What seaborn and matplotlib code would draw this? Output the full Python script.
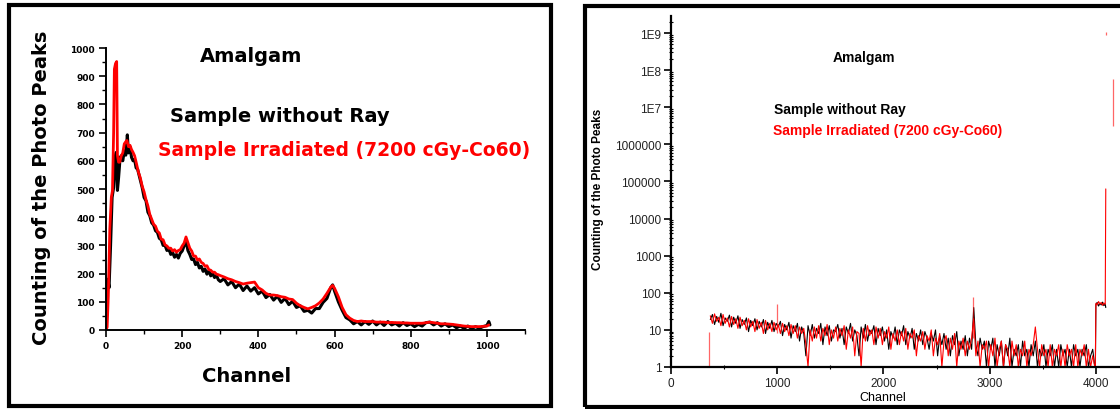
import numpy as np
import pandas as pd
import seaborn as sns
import matplotlib.pyplot as plt
from matplotlib.patches import Rectangle
from matplotlib.ticker import MultipleLocator, FixedLocator, LogLocator, NullFormatter

#### data

# left panel, linear counts
left_black_channel = [0, 3, 5, 8, 12, 16, 20, 24, 27, 30, 33, 37, 40, 44, 48, 52, 56, 59, 63, 67,
                      71, 75, 79, 83, 87, 91, 95, 100, 105, 110, 115, 120, 125, 130, 135, 140, 145,
                      150, 155, 160, 165, 170, 175, 180, 185, 190, 195, 200, 205, 210, 215, 220, 225,
                      230, 235, 240, 245, 250, 255, 260, 265, 270, 275, 280, 285, 290, 295, 300, 310,
                      320, 330, 340, 350, 360, 370, 380, 390, 400, 410, 420, 430, 440, 450, 460, 470,
                      480, 490, 500, 510, 520, 530, 540, 550, 560, 570, 580, 590, 595, 600, 610, 620,
                      630, 640, 650, 660, 670, 680, 690, 700, 710, 720, 730, 740, 750, 760, 770, 780,
                      790, 800, 810, 820, 830, 840, 850, 860, 870, 880, 890, 900, 910, 920, 930, 940,
                      950, 960, 970, 980, 990, 1000, 1005, 1008]
left_black_count = [0, 95, 180, 150, 300, 470, 505, 610, 630, 495, 540, 610, 618, 600, 635, 620, 692, 628, 650, 612,
                    600, 605, 575, 570, 548, 525, 505, 470, 458, 418, 405, 380, 372, 352, 346, 325, 320,
                    300, 300, 282, 288, 268, 275, 258, 268, 255, 272, 280, 298, 318, 282, 268, 250,
                    252, 232, 240, 220, 226, 208, 216, 198, 210, 192, 200, 186, 194, 178, 172, 182,
                    160, 172, 150, 163, 140, 156, 138, 150, 128, 138, 115, 126, 106, 120, 98, 112,
                    90, 102, 80, 86, 66, 70, 60, 76, 76, 98, 112, 150, 160, 138, 100, 70,
                    44, 36, 22, 30, 18, 30, 20, 32, 18, 28, 16, 30, 18, 24, 14, 26,
                    16, 22, 12, 20, 14, 26, 28, 18, 26, 14, 22, 12, 18, 8, 14, 6,
                    14, 5, 12, 6, 12, 16, 30, 18]

left_red_channel = [0, 3, 6, 10, 14, 17, 20, 22, 25, 28, 30, 33, 36, 40, 44, 48, 52, 55, 59, 63,
                    67, 71, 75, 80, 85, 90, 95, 100, 105, 110, 115, 120, 125, 130, 135, 140, 145,
                    150, 155, 160, 165, 170, 175, 180, 185, 190, 195, 200, 205, 210, 215, 220, 225,
                    230, 235, 240, 245, 250, 255, 260, 265, 270, 275, 280, 285, 290, 295, 300, 310,
                    320, 330, 340, 350, 360, 370, 380, 390, 400, 410, 420, 430, 440, 450, 460, 470,
                    480, 490, 500, 510, 520, 530, 540, 550, 560, 570, 580, 590, 595, 600, 610, 620,
                    630, 640, 650, 660, 670, 680, 690, 700, 710, 720, 730, 740, 750, 760, 770, 780,
                    790, 800, 810, 820, 830, 840, 850, 860, 870, 880, 890, 900, 910, 920, 930, 940,
                    950, 960, 970, 980, 990, 1000, 1005]
left_red_count = [0, 10, 120, 358, 470, 495, 700, 925, 945, 952, 620, 595, 595, 617, 628, 660, 668, 672, 650, 655,
                  640, 630, 618, 590, 560, 540, 510, 490, 462, 440, 410, 392, 375, 368, 350, 344, 322,
                  320, 302, 298, 290, 290, 280, 285, 276, 282, 285, 298, 308, 330, 310, 290, 280,
                  262, 262, 248, 252, 240, 236, 226, 228, 214, 212, 205, 205, 198, 196, 193, 188,
                  182, 178, 172, 168, 163, 166, 168, 170, 150, 142, 130, 124, 124, 122, 118, 116,
                  110, 108, 95, 86, 80, 75, 80, 86, 96, 110, 130, 152, 158, 148, 118, 80,
                  54, 42, 34, 30, 32, 30, 30, 30, 28, 28, 28, 26, 27, 26, 26, 25,
                  25, 24, 24, 24, 24, 26, 28, 26, 24, 22, 22, 21, 20, 18, 16, 14,
                  13, 12, 12, 12, 13, 14, 18]

# right panel, log counts
right_channel = [370, 390, 410, 430, 450, 470, 490, 510, 530, 550,
                 570, 590, 610, 630, 650, 670, 690, 710, 730, 750,
                 770, 790, 810, 830, 850, 870, 890, 910, 930, 950,
                 970, 990, 1010, 1030, 1050, 1070, 1090, 1110, 1130, 1150,
                 1170, 1190, 1210, 1230, 1250, 1270, 1290, 1310, 1330, 1350,
                 1370, 1390, 1410, 1430, 1450, 1470, 1490, 1510, 1530, 1550,
                 1570, 1590, 1610, 1630, 1650, 1670, 1690, 1710, 1730, 1750,
                 1770, 1790, 1810, 1830, 1850, 1870, 1890, 1910, 1930, 1950,
                 1970, 1990, 2010, 2030, 2050, 2070, 2090, 2110, 2130, 2150,
                 2170, 2190, 2210, 2230, 2250, 2270, 2290, 2310, 2330, 2350,
                 2370, 2390, 2410, 2430, 2450, 2470, 2490, 2510, 2530, 2550,
                 2570, 2590, 2610, 2630, 2650, 2670, 2690, 2710, 2730, 2750,
                 2770, 2790, 2810, 2830, 2850, 2870, 2890, 2910, 2930, 2950,
                 2970, 2990, 3010, 3030, 3050, 3070, 3090, 3110, 3130, 3150,
                 3170, 3190, 3210, 3230, 3250, 3270, 3290, 3310, 3330, 3350,
                 3370, 3390, 3410, 3430, 3450, 3470, 3490, 3510, 3530, 3550,
                 3570, 3590, 3610, 3630, 3650, 3670, 3690, 3710, 3730, 3750,
                 3770, 3790, 3810, 3830, 3850, 3870, 3890, 3910, 3930, 3950,
                 3970, 3990]
right_black_count = [19, 26, 14, 23, 16, 28, 13, 21, 17, 25,
                     12, 22, 15, 24, 11, 19, 14, 21, 9, 18,
                     13, 20, 10, 17, 12, 19, 8, 16, 11, 18,
                     9, 15, 12, 17, 7, 14, 10, 16, 6, 13,
                     9, 15, 5, 12, 8, 2, 13, 7, 14, 6,
                     11, 8, 15, 4, 12, 7, 13, 5, 10, 9,
                     14, 6, 11, 4, 12, 8, 15, 5, 10, 7,
                     2, 12, 6, 14, 5, 10, 8, 13, 4, 11,
                     7, 12, 5, 10, 3, 9, 6, 12, 4, 10,
                     7, 13, 4, 9, 6, 11, 3, 8, 5, 10,
                     4, 9, 6, 3, 8, 5, 10, 2, 7, 4,
                     8, 3, 6, 2, 7, 4, 9, 2, 5, 3,
                     7, 2, 6, 3, 40, 4, 2, 6, 3, 5,
                     1, 5, 3, 6, 1, 4, 2, 5, 1, 4,
                     2, 6, 1, 3, 2, 4, 1, 5, 2, 3,
                     1, 4, 2, 5, 1, 3, 2, 4, 1, 3,
                     2, 4, 1, 3, 1, 4, 2, 3, 1, 3,
                     1, 4, 2, 3, 1, 3, 2, 4, 1, 2,
                     3, 1]
right_red_count = [24, 15, 27, 17, 22, 13, 26, 15, 21, 12,
                   23, 14, 20, 11, 22, 13, 18, 10, 20, 12,
                   17, 9, 19, 11, 16, 8, 18, 10, 15, 9,
                   16, 10, 14, 8, 15, 9, 13, 7, 14, 8,
                   13, 6, 12, 8, 11, 4, 1, 10, 5, 12,
                   6, 13, 5, 11, 7, 14, 4, 10, 6, 12,
                   5, 11, 7, 13, 3, 10, 6, 12, 2, 9,
                   8, 1, 11, 5, 13, 7, 10, 4, 12, 6,
                   11, 4, 9, 6, 12, 3, 8, 5, 10, 4,
                   9, 5, 11, 3, 8, 6, 10, 2, 7, 5,
                   9, 3, 7, 5, 10, 2, 6, 4, 8, 1,
                   5, 7, 2, 6, 3, 8, 1, 5, 3, 6,
                   2, 5, 3, 6, 20, 2, 5, 1, 4, 3,
                   5, 1, 4, 2, 6, 1, 3, 5, 1, 4,
                   3, 1, 5, 2, 4, 1, 3, 2, 5, 1,
                   3, 2, 4, 12, 3, 1, 4, 2, 3, 1,
                   4, 1, 3, 2, 4, 1, 3, 1, 4, 2,
                   3, 1, 4, 1, 3, 2, 4, 1, 3, 1,
                   2, 1]
tail_channel = [3995, 4000, 4012, 4025, 4038, 4050, 4063, 4075, 4088, 4093]
tail_black_count = [1, 48, 55, 44, 52, 47, 56, 45, 50, 40]
tail_red_count = [1, 52, 47, 58, 50, 55, 46, 53, 49, 63000]
spike_channel = [357, 1000, 2840, 4093, 4165]
spike_low = [1, 8, 6, 9.0e8, 3.2e6]
spike_high = [9, 50, 75, 1.1e9, 5.7e7]

right_yticks = [1, 10, 100, 1000, 1e4, 1e5, 1e6, 1e7, 1e8, 1e9]
right_yticklabels = ['1', '10', '100', '1000', '10000', '100000', '1000000', '1E7', '1E8', '1E9']

sns.set_style('ticks')
plt.rcParams['font.family'] = ['Liberation Sans', 'DejaVu Sans']

W, H = 1120, 410
fig = plt.figure(figsize=(W / 100, H / 100), dpi=100)

def box(x0, y0, x1, y1):
    # pixel box (top-left origin) -> figure fraction rect
    return [x0 / W, 1 - y1 / H, (x1 - x0) / W, (y1 - y0) / H]

### left panel ###
ax1 = fig.add_axes(box(106, 49, 525, 331))
sns.lineplot(x=left_black_channel, y=left_black_count, ax=ax1, color='black', lw=2.2,
             sort=False, estimator=None)
sns.lineplot(x=left_red_channel, y=left_red_count, ax=ax1, color='#ff0000', lw=2.0,
             sort=False, estimator=None)
ax1.set_xlim(0, 1100)
ax1.set_ylim(0, 1000)
ax1.xaxis.set_major_locator(FixedLocator([0, 200, 400, 600, 800, 1000]))
ax1.xaxis.set_minor_locator(MultipleLocator(100))
ax1.yaxis.set_major_locator(MultipleLocator(100))
ax1.yaxis.set_minor_locator(MultipleLocator(50))
for s in ['top', 'right']:
    ax1.spines[s].set_visible(False)
for s in ['left', 'bottom']:
    ax1.spines[s].set_linewidth(1.4)
    ax1.spines[s].set_color('black')
ax1.tick_params(which='major', direction='out', length=5, width=1.2, colors='black', pad=3)
ax1.tick_params(which='minor', direction='out', length=3, width=1.0, colors='black')
for lab in ax1.get_xticklabels() + ax1.get_yticklabels():
    lab.set_fontfamily('DejaVu Sans')
    lab.set_fontweight('bold')
    lab.set_fontsize(6.5)
ax1.set_xlabel('')
ax1.set_ylabel('')

fig.text(42 / W, 1 - 188 / H, 'Counting of the Photo Peaks', rotation=90, ha='center', va='center',
         fontsize=14, fontweight='bold', family='DejaVu Sans', color='black')
fig.text(247 / W, 1 - 377 / H, 'Channel', ha='center', va='center',
         fontsize=14, fontweight='bold', family='DejaVu Sans', color='black')
fig.text(200 / W, 1 - 57 / H, 'Amalgam', ha='left', va='center',
         fontsize=14, fontweight='bold', family='DejaVu Sans', color='black')
fig.text(170 / W, 1 - 116 / H, 'Sample without Ray', ha='left', va='center',
         fontsize=14, fontweight='bold', family='DejaVu Sans', color='black')
fig.text(158 / W, 1 - 151 / H, 'Sample Irradiated (7200 cGy-Co60)', ha='left', va='center',
         fontsize=13.5, fontweight='bold', family='DejaVu Sans', color='#ff0000')

### right panel ###
ax2 = fig.add_axes(box(671, 17, 1149, 368))
sns.lineplot(x=right_channel, y=right_black_count, ax=ax2, color='black', lw=0.8,
             sort=False, estimator=None)
sns.lineplot(x=tail_channel, y=tail_black_count, ax=ax2, color='black', lw=0.8,
             sort=False, estimator=None)
sns.lineplot(x=right_channel, y=right_red_count, ax=ax2, color='#ff0000', lw=0.8,
             sort=False, estimator=None)
sns.lineplot(x=tail_channel, y=tail_red_count, ax=ax2, color='#ff0000', lw=0.8,
             sort=False, estimator=None)
ax2.vlines(spike_channel, spike_low, spike_high, color='#ff0000', lw=0.9, alpha=0.6)
ax2.set_yscale('log')
ax2.set_xlim(0, 4500)
ax2.set_ylim(1, 10 ** 9.46)
ax2.yaxis.set_major_locator(FixedLocator(right_yticks))
ax2.set_yticklabels(right_yticklabels)
ax2.yaxis.set_minor_locator(LogLocator(base=10, subs=np.arange(2, 10), numticks=20))
ax2.yaxis.set_minor_formatter(NullFormatter())
ax2.xaxis.set_major_locator(MultipleLocator(1000))
ax2.xaxis.set_minor_locator(MultipleLocator(500))
for s in ['top', 'right']:
    ax2.spines[s].set_visible(False)
for s in ['left', 'bottom']:
    ax2.spines[s].set_linewidth(1.6)
    ax2.spines[s].set_color('black')
ax2.tick_params(which='major', direction='out', length=5, width=1.2, colors='black',
                labelcolor='#222222', labelsize=8.5, pad=2)
ax2.tick_params(which='minor', direction='inout', length=3, width=0.8, colors='black')
ax2.set_xlabel('')
ax2.set_ylabel('')

fig.text(598 / W, 1 - 189 / H, 'Counting of the Photo Peaks', rotation=90, ha='center', va='center',
         fontsize=8.5, fontweight='bold', color='black')
fig.text(883 / W, 1 - 398 / H, 'Channel', ha='center', va='center', fontsize=9, color='black')
fig.text(833 / W, 1 - 58 / H, 'Amalgam', ha='left', va='center', fontsize=10, fontweight='bold',
         color='black')
fig.text(774 / W, 1 - 110 / H, 'Sample without Ray', ha='left', va='center',
         fontsize=10, fontweight='bold', color='black')
fig.text(773 / W, 1 - 131 / H, 'Sample Irradiated (7200 cGy-Co60)', ha='left', va='center',
         fontsize=10, fontweight='bold', color='#ff0000')

### thick frames round both panels ###
fig.add_artist(Rectangle((9 / W, 1 - 407 / H), 542 / W, 401.5 / H, transform=fig.transFigure,
                         fill=False, lw=3, ec='black'))
fig.add_artist(Rectangle((585 / W, 1 - 408 / H), 600 / W, 401 / H, transform=fig.transFigure,
                         fill=False, lw=3, ec='black'))

fig.savefig('out.png', dpi=100)
